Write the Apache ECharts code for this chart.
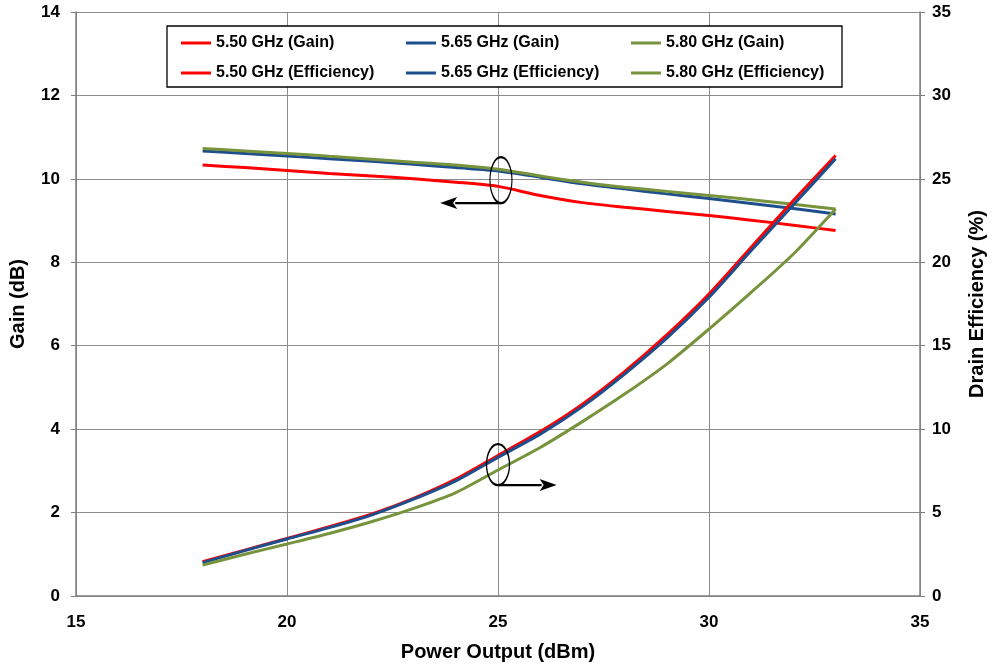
<!DOCTYPE html>
<html>
<head>
<meta charset="utf-8">
<script src="https://cdn.jsdelivr.net/npm/echarts@6/dist/echarts.min.js"></script>
<style>html,body{margin:0;padding:0;background:#fff;overflow:hidden}#c{width:993px;height:668px}</style>
</head>
<body>
<div id="c"></div>
<script>
const powerOut = [18,19,20,21,22,23,24,25,26,27,28,29,30,31,32,33];
const gain550 = [10.33,10.27,10.2,10.13,10.07,10.0,9.92,9.82,9.6,9.43,9.32,9.22,9.12,9.01,8.89,8.76];
const gain565 = [10.67,10.61,10.55,10.48,10.42,10.35,10.27,10.19,10.04,9.88,9.76,9.64,9.53,9.41,9.29,9.16];
const gain580 = [10.73,10.67,10.61,10.54,10.47,10.4,10.33,10.23,10.07,9.92,9.8,9.7,9.6,9.5,9.39,9.28];
const eff550 = [2.05,2.75,3.45,4.15,4.9,5.85,7.0,8.42,9.85,11.5,13.45,15.65,18.1,20.9,23.7,26.4];
const eff565 = [2.0,2.72,3.42,4.1,4.85,5.8,6.9,8.31,9.7,11.35,13.3,15.45,17.9,20.7,23.45,26.2];
const eff580 = [1.85,2.5,3.12,3.75,4.45,5.25,6.2,7.55,8.9,10.45,12.1,13.9,16.0,18.2,20.5,23.2];
const seriesNames = ['5.50 GHz (Gain)','5.65 GHz (Gain)','5.80 GHz (Gain)','5.50 GHz (Efficiency)','5.65 GHz (Efficiency)','5.80 GHz (Efficiency)'];
const xTicks = [15,20,25,30,35];

const RED = '#ff0000', BLUE = '#1f4e8c', GREEN = '#77933c';
const FONT = 'Liberation Sans, Arial, sans-serif';
const pair = (xs, ys) => xs.map((x, i) => [x, ys[i]]);

const chart = echarts.init(document.getElementById('c'));
function mk(name, data, color, yIdx) {
  return {
    name, type: 'line', data, yAxisIndex: yIdx, smooth: 0.25, symbol: 'none',
    lineStyle: { color, width: 3 }, itemStyle: { color }, z: 3
  };
}
const legendText = { fontFamily: FONT, fontWeight: 'bold', fontSize: 16, color: '#000', lineHeight: 16 };
const colLeft = [181, 406, 631];
const legends = colLeft.map((l, i) => ({
  data: [seriesNames[i], seriesNames[i + 3]], orient: 'vertical', left: l, top: 35,
  itemGap: 14, itemWidth: 30, itemHeight: 3, icon: 'rect', textStyle: legendText, padding: 0, z: 20
}));
const titleStyle = { fontFamily: FONT, fontWeight: 'bold', fontSize: 20, color: '#000' };
const tickStyle = { fontFamily: FONT, fontWeight: 'bold', fontSize: 17, color: '#000' };
chart.setOption({
  animation: false,
  backgroundColor: '#fff',
  grid: { left: 76, right: 73, top: 12, bottom: 72, containLabel: false, outerBoundsMode: 'none' },
  legend: legends,
  xAxis: {
    type: 'value', min: xTicks[0], max: xTicks[xTicks.length - 1], interval: 5,
    name: 'Power Output (dBm)', nameLocation: 'middle', nameGap: 46,
    nameTextStyle: titleStyle,
    axisLine: { lineStyle: { color: '#808080', width: 1.5 } },
    axisTick: { show: false },
    axisLabel: Object.assign({ margin: 18 }, tickStyle),
    splitLine: { show: true, lineStyle: { color: '#8c8c8c', width: 1 } }
  },
  yAxis: [
    { type: 'value', min: 0, max: 14, interval: 2, position: 'left',
      name: 'Gain (dB)', nameLocation: 'middle', nameGap: 48,
      nameTextStyle: titleStyle,
      axisLine: { show: true, lineStyle: { color: '#808080', width: 1.5 } },
      axisTick: { show: true, length: 5, lineStyle: { color: '#808080' } },
      axisLabel: Object.assign({ margin: 16 }, tickStyle),
      splitLine: { show: true, lineStyle: { color: '#8c8c8c', width: 1 } } },
    { type: 'value', min: 0, max: 35, interval: 5, position: 'right',
      name: 'Drain Efficiency (%)', nameLocation: 'middle', nameGap: 47,
      nameTextStyle: titleStyle,
      axisLine: { show: true, lineStyle: { color: '#808080', width: 1.5 } },
      axisTick: { show: true, length: 5, lineStyle: { color: '#808080' } },
      axisLabel: Object.assign({ margin: 12 }, tickStyle),
      splitLine: { show: false } }
  ],
  series: [
    mk(seriesNames[0], pair(powerOut, gain550), RED, 0),
    mk(seriesNames[1], pair(powerOut, gain565), BLUE, 0),
    mk(seriesNames[2], pair(powerOut, gain580), GREEN, 0),
    mk(seriesNames[3], pair(powerOut, eff550), RED, 1),
    mk(seriesNames[4], pair(powerOut, eff565), BLUE, 1),
    mk(seriesNames[5], pair(powerOut, eff580), GREEN, 1)
  ]
});

// annotations positioned through the axes
const P = (x, g) => chart.convertToPixel({ xAxisIndex: 0, yAxisIndex: 0 }, [x, g]);
function ellipseAndArrow(center, rx, ry, tipX) {
  const c = P(center[0], center[1]);
  const yb = c[1] + ry;
  const tip = P(tipX, 0)[0];
  const dir = tip < c[0] ? -1 : 1;
  const headLen = 17, headHalf = 6;
  return [
    { type: 'circle', x: c[0], y: c[1], scaleX: rx / ry, shape: { cx: 0, cy: 0, r: ry },
      style: { fill: 'none', stroke: '#000', lineWidth: 2.3 }, z: 10 },
    { type: 'line', shape: { x1: c[0], y1: yb, x2: tip - dir * headLen + dir * 2, y2: yb },
      style: { stroke: '#000', lineWidth: 2.4 }, z: 10 },
    { type: 'polygon', shape: { points: [[tip, yb], [tip - dir * headLen, yb - headHalf], [tip - dir * (headLen - 4), yb], [tip - dir * headLen, yb + headHalf]] },
      style: { fill: '#000' }, z: 10 }
  ];
}
const g1 = ellipseAndArrow([25.07, 9.97], 11, 23, 23.63);
const g2 = ellipseAndArrow([25.0, 3.15], 11.5, 20.5, 26.39);
chart.setOption({
  graphic: [
    { type: 'rect', shape: { x: 167, y: 26, width: 675, height: 61 },
      style: { fill: '#fff', stroke: '#000', lineWidth: 1.3 }, z: 5 },
    ...g1, ...g2
  ]
});
</script>
</body>
</html>
